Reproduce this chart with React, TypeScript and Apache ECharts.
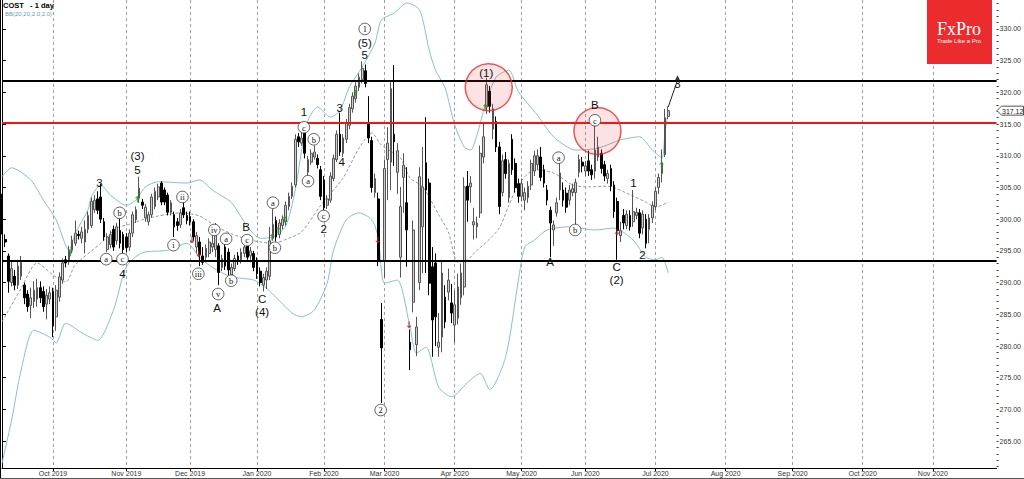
import React, { useEffect, useRef } from "react";
import * as echarts from "echarts";

// ---------------- data ----------------
const SYMBOL_TITLE = "COST   - 1 day";
const INDICATOR_TITLE = "BB(20,20,2.0,2.0)";
const START_DATE = "2019-09-09";
const SLOT_COUNT = 313;
const HOLIDAYS = ["2019-11-28", "2019-12-25", "2020-01-01", "2020-01-20", "2020-02-17", "2020-04-10", "2020-05-25", "2020-07-03"];
const MONTH_NAMES = ["Jan", "Feb", "Mar", "Apr", "May", "Jun", "Jul", "Aug", "Sep", "Oct", "Nov", "Dec"];

// [open, close, low, high]
const CANDLES: number[][] = [
  [303.3, 298.2, 297.6, 304.0], [296.8, 296.4, 295.6, 297.6], [294.2, 290.2, 288.4, 294.6], [290.0, 292.2, 289.4, 293.4],
  [291.0, 289.6, 288.8, 292.0], [289.6, 292.6, 289.0, 293.6], [291.0, 293.2, 290.4, 294.2], [289.6, 287.6, 286.6, 290.0],
  [288.2, 286.2, 285.4, 288.8], [286.4, 287.6, 284.4, 289.2], [287.0, 288.8, 286.0, 290.2], [287.4, 289.2, 286.2, 290.6],
  [289.2, 287.6, 286.8, 290.2], [288.6, 286.2, 285.4, 289.4], [286.6, 288.0, 284.2, 289.0], [287.4, 288.4, 286.6, 289.4],
  [288.6, 283.2, 281.4, 289.2], [284.6, 288.8, 282.4, 289.6], [287.7, 290.9, 287.0, 291.6], [290.4, 293.1, 289.8, 293.8],
  [293.6, 293.1, 292.4, 294.2], [293.3, 295.1, 292.8, 295.8], [295.1, 296.7, 294.6, 297.4], [296.2, 297.8, 295.8, 299.8],
  [297.6, 297.4, 296.8, 298.2], [297.0, 298.0, 296.2, 298.8], [296.4, 298.4, 294.6, 299.8], [298.4, 300.6, 297.8, 301.2],
  [299.0, 302.8, 298.6, 303.4], [301.5, 303.0, 301.0, 303.8], [303.2, 301.4, 300.8, 304.4], [303.5, 300.0, 299.4, 305.6],
  [299.6, 297.2, 296.6, 300.2], [295.2, 297.2, 294.8, 297.8], [296.0, 297.6, 295.4, 298.2], [298.4, 295.6, 295.0, 299.0],
  [296.6, 298.8, 296.0, 299.4], [298.2, 296.2, 295.4, 300.2], [297.6, 295.2, 294.6, 298.0], [297.2, 295.5, 294.8, 297.8],
  [295.6, 297.8, 295.0, 298.4], [297.8, 300.7, 297.2, 301.2], [299.9, 301.5, 299.4, 302.0], [303.3, 304.9, 302.6, 306.7],
  [302.7, 302.2, 301.6, 303.2], [300.2, 301.9, 299.6, 302.4], [299.6, 300.7, 299.0, 301.2], [300.7, 303.5, 300.2, 304.0],
  [302.0, 304.4, 301.6, 305.0], [303.5, 305.1, 303.0, 305.6], [305.7, 302.7, 302.2, 306.0], [304.6, 302.7, 302.2, 305.0],
  [303.8, 301.1, 300.6, 304.2], [301.1, 302.6, 300.6, 303.0], [300.7, 298.8, 297.2, 301.2], [299.6, 299.0, 298.2, 300.2],
  [299.1, 301.0, 298.6, 301.6], [301.8, 300.7, 300.2, 302.8], [300.6, 299.8, 299.2, 301.2], [300.4, 299.6, 299.0, 301.2],
  [299.6, 297.2, 296.6, 300.0], [295.6, 297.4, 294.6, 298.0], [296.4, 294.4, 292.6, 297.2], [294.2, 293.2, 292.8, 295.6],
  [294.0, 295.4, 293.2, 296.0], [294.6, 296.4, 294.0, 297.0], [295.6, 296.2, 294.8, 297.4], [295.2, 298.2, 294.0, 299.4],
  [295.8, 291.6, 289.6, 296.2], [292.4, 293.8, 291.8, 294.4], [295.6, 292.6, 292.0, 296.0], [294.8, 292.0, 291.2, 295.4],
  [291.2, 292.4, 291.2, 293.0], [292.2, 293.8, 291.8, 294.4], [294.2, 293.4, 292.8, 294.8], [293.6, 294.8, 293.0, 295.4],
  [294.6, 295.6, 294.0, 296.2], [296.0, 294.0, 293.6, 296.6], [294.2, 295.0, 293.2, 295.6], [294.6, 292.4, 291.8, 295.0],
  [293.4, 291.4, 290.6, 294.0], [291.8, 290.0, 289.4, 292.4], [289.6, 290.8, 288.6, 291.4], [290.4, 291.8, 289.0, 292.4],
  [291.0, 296.6, 290.4, 298.8], [297.0, 299.2, 296.6, 301.6], [299.8, 297.2, 296.5, 300.4], [297.6, 299.4, 297.0, 300.0],
  [299.0, 300.0, 298.4, 300.6], [299.6, 302.2, 299.0, 302.8], [302.0, 303.6, 301.4, 304.2], [303.6, 305.2, 303.2, 305.8],
  [305.4, 312.6, 305.0, 313.4], [313.0, 312.2, 311.4, 313.6], [312.0, 312.8, 311.6, 313.6], [313.6, 310.4, 309.6, 314.6],
  [307.4, 309.4, 306.8, 310.0], [309.0, 310.4, 308.6, 311.0], [309.8, 310.6, 309.4, 311.6], [309.6, 308.6, 308.0, 310.2],
  [307.8, 303.6, 303.0, 308.4], [306.2, 301.8, 301.2, 306.8], [302.2, 303.2, 301.6, 303.8], [303.0, 306.8, 302.6, 307.4],
  [306.4, 309.6, 306.0, 310.2], [309.4, 313.4, 309.0, 314.0], [313.4, 310.6, 310.0, 316.8], [310.4, 312.8, 309.8, 313.4],
  [312.6, 315.2, 312.0, 315.8], [314.8, 317.6, 314.2, 318.2], [317.4, 319.4, 316.8, 320.0], [319.0, 321.0, 318.4, 321.6],
  [320.8, 322.4, 320.2, 323.0], [322.0, 323.8, 321.4, 324.9], [323.4, 321.4, 320.8, 324.4], [315.2, 312.8, 312.0, 319.4],
  [312.4, 305.0, 304.2, 313.0], [304.2, 306.4, 303.4, 307.2], [303.2, 293.4, 292.6, 304.2], [284.2, 279.7, 271.0, 286.8],
  [293.4, 308.0, 290.8, 309.4], [309.4, 312.0, 303.0, 314.5], [309.0, 320.6, 304.6, 321.6], [313.4, 312.2, 308.4, 324.3],
  [307.4, 310.8, 304.0, 312.0], [294.0, 302.0, 290.8, 305.1], [306.6, 308.5, 301.0, 310.4], [302.6, 298.3, 292.5, 308.2],
  [280.6, 279.4, 276.2, 282.6], [286.9, 298.3, 285.3, 299.8], [280.2, 283.0, 278.4, 284.6], [290.0, 306.7, 288.8, 308.2],
  [298.8, 305.1, 291.5, 311.4], [308.9, 304.6, 291.5, 316.1], [305.7, 289.9, 288.0, 306.4], [292.5, 284.1, 278.3, 295.6],
  [293.1, 284.6, 280.0, 294.6], [279.8, 280.6, 278.3, 285.2], [281.4, 291.5, 279.0, 293.5], [287.7, 283.8, 282.8, 289.6],
  [288.5, 290.4, 287.2, 292.2], [286.8, 285.2, 283.6, 289.8], [283.3, 286.5, 280.5, 288.8], [284.4, 289.3, 283.4, 291.4],
  [287.6, 291.5, 286.5, 293.0], [289.3, 305.1, 288.0, 306.6], [305.2, 303.0, 299.6, 307.6], [305.1, 305.7, 302.6, 306.8],
  [299.1, 299.6, 296.8, 301.8], [298.8, 299.4, 297.0, 300.4], [301.0, 310.4, 300.2, 311.6], [309.8, 313.0, 308.8, 315.2],
  [317.7, 321.2, 316.6, 322.3], [320.2, 317.8, 316.8, 321.0], [314.2, 317.4, 312.6, 318.2], [315.4, 311.4, 310.6, 316.2],
  [311.4, 302.0, 300.8, 312.2], [304.2, 309.2, 303.6, 310.2], [309.4, 307.2, 306.4, 310.6], [303.4, 308.8, 302.6, 309.4],
  [312.6, 307.8, 307.0, 313.4], [308.8, 305.0, 304.2, 309.6], [305.6, 303.6, 302.6, 306.4], [303.6, 305.6, 302.8, 306.4],
  [303.0, 304.2, 301.4, 305.0], [303.4, 305.2, 302.6, 306.0], [305.4, 308.8, 304.6, 309.4], [307.6, 310.0, 306.8, 310.8],
  [308.6, 310.0, 307.8, 311.0], [309.8, 306.6, 306.0, 311.4], [307.8, 305.7, 305.0, 308.6], [304.6, 303.0, 302.2, 305.4],
  [301.4, 299.4, 294.0, 302.0], [298.3, 299.1, 295.8, 299.8], [301.0, 302.6, 300.4, 303.4], [304.6, 307.3, 303.0, 308.9],
  [304.6, 303.0, 302.0, 305.8], [304.1, 301.9, 301.0, 305.0], [303.0, 304.6, 302.2, 305.4], [304.2, 304.8, 303.6, 305.6],
  [304.2, 305.8, 298.6, 306.4], [307.4, 309.4, 306.6, 310.2], [309.0, 308.4, 307.4, 309.8], [307.6, 308.4, 306.8, 309.2],
  [309.2, 307.6, 306.8, 310.8], [307.8, 307.0, 306.2, 308.6], [307.6, 310.9, 306.4, 315.2], [309.8, 311.4, 309.2, 313.0],
  [310.4, 308.0, 307.2, 311.0], [308.6, 306.8, 306.0, 309.2], [306.4, 307.2, 305.6, 307.8], [308.0, 305.2, 304.4, 308.6],
  [305.4, 301.2, 300.2, 306.0], [302.8, 298.2, 293.6, 303.4], [297.4, 298.2, 296.4, 299.6], [300.6, 299.4, 298.4, 301.6],
  [299.0, 300.8, 298.4, 301.4], [300.6, 298.8, 298.2, 301.4], [299.6, 301.2, 298.8, 304.6], [300.6, 301.1, 300.0, 301.8],
  [301.0, 297.8, 297.0, 301.6], [298.6, 300.8, 297.6, 301.4], [300.0, 296.2, 295.4, 300.8], [298.4, 300.2, 296.2, 300.8],
  [300.2, 302.2, 299.4, 302.8], [302.0, 304.4, 301.4, 305.0], [305.0, 306.6, 304.0, 307.2], [307.2, 308.9, 305.8, 311.0],
  [310.2, 316.0, 309.8, 317.4], [316.2, 317.12, 315.8, 317.8],
];

// Bollinger bands, [bar index, value]
const BB_UPPER: number[][] = [
  [0, 306.7], [3, 308.1], [9, 306.2], [13, 303.0], [17, 299.9], [21, 295.1], [23, 297.8], [27, 301.5], [28, 303.5],
  [31, 305.4], [34, 303.8], [39, 302.2], [42, 303.0], [45, 305.1], [49, 305.9], [58, 305.7], [62, 306.2], [66, 304.6],
  [72, 302.6], [77, 298.8], [81, 297.0], [85, 297.2], [89, 298.9], [92, 304.6], [94, 310.9], [96, 315.6], [99, 317.7],
  [103, 316.1], [106, 317.1], [109, 320.9], [113, 324.0], [117, 327.8], [119, 331.4], [123, 332.5], [127, 334.1],
  [131, 333.0], [134, 326.7], [136, 323.5], [139, 320.7], [142, 314.9], [145, 311.4], [147, 310.9], [149, 313.3],
  [151.6, 318.0], [155, 322.4], [159, 323.5], [162, 320.1], [168, 316.4], [173, 313.0], [180, 310.9], [187, 311.2],
  [194, 312.5], [200, 313.0], [204, 310.9], [207, 309.7], [208, 313.8], [209, 316.8],
];
const BB_MIDDLE: number[][] = [
  [0, 283.8], [6, 289.1], [11, 293.1], [16, 291.2], [20, 290.1], [23, 292.8], [31, 296.2], [36, 298.6], [40, 299.2],
  [44, 299.9], [49, 300.5], [56, 301.0], [62, 300.5], [67, 298.9], [72, 297.7], [78, 296.7], [85, 296.2], [90, 297.0],
  [94, 298.0], [100, 302.2], [107, 306.5], [112, 311.2], [116, 313.6], [119, 311.7], [123, 310.4], [125, 309.7],
  [128, 306.5], [132, 305.1], [137, 300.7], [140, 298.0], [143, 293.2], [146, 293.6], [149, 295.1], [152, 296.4],
  [156, 298.6], [159, 302.2], [162, 305.4], [167, 307.8], [173, 307.3], [179, 305.4], [184, 305.1], [190, 305.2],
  [196, 304.1], [202, 302.7], [205, 301.9], [209, 302.7],
];
const BB_LOWER: number[][] = [
  [0, 261.5], [3, 268.3], [6, 276.2], [10, 282.5], [15, 281.4], [17, 280.5], [20, 283.6], [25, 282.1], [30, 280.9],
  [35, 285.7], [39, 292.5], [44, 294.7], [52, 295.1], [58, 296.2], [62, 294.0], [66, 292.4], [72, 290.9], [79, 290.4],
  [83, 289.1], [91, 285.2], [94, 284.6], [98, 285.7], [102, 289.9], [104, 295.1], [108, 299.9], [112, 301.0],
  [116, 299.9], [118, 297.2], [120, 289.9], [124, 290.4], [128, 283.0], [130, 278.9], [133, 279.8], [137, 273.5],
  [141, 272.0], [146, 274.2], [150, 275.7], [153, 273.1], [158, 278.3], [162, 290.4], [164, 295.6], [167, 296.7],
  [171, 298.3], [178, 298.8], [186, 298.3], [192, 298.6], [198, 296.7], [202, 294.0], [205, 293.6], [207, 294.0],
  [209, 291.5],
];

const LEVEL_VALUES = [321.85, 315.28, 293.45];
const LEVEL_COLORS = ["#000000", "#f21414", "#000000"];
const Y_MIN = 260.76;
const Y_MAX = 334.57;
const Y_TICKS = [265, 270, 275, 280, 285, 290, 295, 300, 305, 310, 315, 320, 325, 330];
const LAST_PRICE = 317.12;

// Elliott wave annotations [bar index, price, text]
const WAVE_LABELS: [number, number, string][] = [
  [30.6, 305.7, "3"], [42.5, 307.8, "5"], [42.5, 309.9, "(3)"], [37.8, 291.4, "4"],
  [67.5, 286.0, "A"], [76.6, 298.8, "B"], [81.6, 287.4, "C"], [81.6, 285.4, "(4)"],
  [94.7, 316.9, "1"], [100.9, 298.5, "2"], [105.9, 317.5, "3"], [106.6, 309.0, "4"],
  [113.8, 325.9, "5"], [113.8, 327.8, "(5)"], [151.9, 323.1, "(1)"], [171.9, 293.3, "A"],
  [186.0, 318.0, "B"], [192.8, 292.5, "C"], [192.8, 290.4, "(2)"], [198.1, 305.7, "1"],
  [200.9, 294.4, "2"], [211.9, 321.3, "3"],
];
const WAVE_CIRCLED: [number, number, string][] = [
  [32.7, 293.7, "a"], [36.9, 301.0, "b"], [37.8, 293.7, "c"], [53.8, 295.9, "i"], [56.6, 303.5, "ii"],
  [61.6, 291.4, "iii"], [66.6, 298.3, "iv"], [67.8, 288.2, "v"], [70.3, 296.9, "a"], [71.9, 290.3, "b"],
  [76.9, 296.7, "c"], [85.0, 302.6, "a"], [85.6, 295.5, "b"], [94.7, 314.5, "c"], [96.0, 306.0, "a"],
  [97.8, 312.6, "b"], [100.9, 300.5, "c"], [113.8, 330.0, "1"], [118.8, 269.9, "2"], [174.6, 309.7, "a"],
  [179.8, 298.3, "b"], [186.0, 315.6, "c"],
];
const UP_ARROWS: number[][] = [
  [21.5, 294.7], [42.5, 303.2], [84.7, 297.2], [86.6, 298.3], [88.7, 300.0], [110.9, 319.9], [151.6, 317.7], [206.9, 308.5],
];
const DOWN_ARROWS: number[][] = [
  [59.6, 296.7], [61.7, 294.5], [117.9, 296.7], [127.7, 283.3], [192.9, 298.0],
];
const HIGHLIGHTS: number[][] = [[152.7, 320.8], [186.8, 313.9]];
const WAVE_PROJECTION: number[][] = [[209, 317.7], [211.9, 321.9]];
const LOGO_TITLE = "FxPro";
const LOGO_SUBTITLE = "Trade Like a Pro";

// ---------------- helpers ----------------
function buildSlots(): string[] {
  const out: string[] = [];
  const d = new Date(START_DATE + "T00:00:00Z");
  while (out.length < SLOT_COUNT) {
    const dow = d.getUTCDay();
    const iso = d.toISOString().slice(0, 10);
    if (dow !== 0 && dow !== 6 && !HOLIDAYS.includes(iso)) out.push(iso);
    d.setUTCDate(d.getUTCDate() + 1);
  }
  return out;
}

const FONT = "Liberation Sans, Arial, sans-serif";
const SERIF = "Liberation Serif, Times New Roman, serif";

function renderPlainLabel(params: any, api: any) {
  const p = api.coord([api.value(0), api.value(1)]);
  const item = WAVE_LABELS[params.dataIndex];
  return {
    type: "text",
    silent: true,
    style: {
      text: item[2],
      x: p[0],
      y: p[1],
      fill: "#111111",
      font: "11.5px " + FONT,
      textAlign: "center",
      textVerticalAlign: "middle",
    },
  };
}

function renderCircledLabel(params: any, api: any) {
  const p = api.coord([api.value(0), api.value(1)]);
  const item = WAVE_CIRCLED[params.dataIndex];
  return {
    type: "group",
    silent: true,
    children: [
      {
        type: "circle",
        shape: { cx: p[0], cy: p[1], r: 5.8 },
        style: { fill: "#ffffff", stroke: "#3a3a3a", lineWidth: 0.8 },
      },
      {
        type: "text",
        style: {
          text: item[2],
          x: p[0],
          y: p[1] + 0.3,
          fill: "#111111",
          font: "8.5px " + SERIF,
          textAlign: "center",
          textVerticalAlign: "middle",
        },
      },
    ],
  };
}

function buildOption() {
  const slots = buildSlots();
  const monthStart = slots.map((d, i) => i > 0 && d.slice(0, 7) !== slots[i - 1].slice(0, 7));
  const isStart = (i: number) => monthStart[i];
  const minorTicks: number[] = [];
  for (let v = Math.ceil(Y_MIN); v <= Math.floor(Y_MAX); v++) minorTicks.push(v);

  return {
    animation: false,
    backgroundColor: "#ffffff",
    grid: { left: 2, right: 24, top: 0, bottom: 11, containLabel: false },
    xAxis: [
      {
        type: "category",
        data: slots,
        boundaryGap: false,
        axisLine: { show: true, lineStyle: { color: "#000", width: 1 } },
        axisTick: { show: true, interval: isStart, length: 3, lineStyle: { color: "#000" } },
        axisLabel: {
          show: true,
          interval: isStart,
          fontSize: 7,
          color: "#333",
          margin: 2,
          fontFamily: FONT,
          formatter: (v: string) => MONTH_NAMES[parseInt(v.slice(5, 7), 10) - 1] + " " + v.slice(0, 4),
        },
        splitLine: { show: true, interval: isStart, lineStyle: { color: "#a0a0a0", type: [3, 3], width: 1 } },
      },
      { type: "value", min: 0, max: SLOT_COUNT - 1, show: false },
    ],
    yAxis: [
      {
        type: "value",
        position: "right",
        min: Y_MIN,
        max: Y_MAX,
        axisLine: { show: true, lineStyle: { color: "#000", width: 1 } },
        axisTick: { show: true, length: 4, customValues: Y_TICKS, lineStyle: { color: "#000" } },
        axisLabel: {
          show: true,
          customValues: Y_TICKS,
          fontSize: 7,
          color: "#333",
          margin: 3,
          fontFamily: FONT,
          formatter: (v: number) => v.toFixed(2),
        },
        splitLine: { show: false },
      },
      {
        type: "value",
        position: "right",
        min: Y_MIN,
        max: Y_MAX,
        axisLine: { show: false },
        axisTick: { show: true, length: 2, customValues: minorTicks, lineStyle: { color: "#333" } },
        axisLabel: { show: false },
        splitLine: { show: false },
      },
    ],
    series: [
      {
        type: "line",
        name: "upper",
        xAxisIndex: 1,
        data: BB_UPPER,
        showSymbol: false,
        smooth: 0.25,
        silent: true,
        lineStyle: { color: "#86c2c2", width: 1 },
        z: 2,
      },
      {
        type: "line",
        name: "lower",
        xAxisIndex: 1,
        data: BB_LOWER,
        showSymbol: false,
        smooth: 0.25,
        silent: true,
        lineStyle: { color: "#86c2c2", width: 1 },
        z: 2,
      },
      {
        type: "line",
        name: "middle",
        xAxisIndex: 1,
        data: BB_MIDDLE,
        showSymbol: false,
        smooth: 0.25,
        silent: true,
        lineStyle: { color: "#8a9e9e", width: 1, type: [3, 2] },
        z: 2,
      },
      {
        type: "candlestick",
        name: "COST",
        data: CANDLES,
        barWidth: 2.2,
        silent: true,
        itemStyle: {
          color: "#cdcdcd",
          color0: "#000000",
          borderColor: "#555555",
          borderColor0: "#000000",
          borderWidth: 1,
        },
        markLine: {
          silent: true,
          symbol: ["none", "none"],
          label: { show: false },
          data: LEVEL_VALUES.map((v, i) => ({
            yAxis: v,
            lineStyle: { color: LEVEL_COLORS[i], width: 2, type: "solid" },
          })),
        },
        z: 3,
      },
      {
        type: "scatter",
        name: "highlights",
        xAxisIndex: 1,
        data: HIGHLIGHTS,
        symbol: "circle",
        symbolSize: 47,
        silent: true,
        itemStyle: { color: "rgba(235,45,45,0.17)", borderColor: "#e53030", borderWidth: 1.5 },
        z: 6,
      },
      {
        type: "scatter",
        name: "up",
        xAxisIndex: 1,
        data: UP_ARROWS,
        symbol: "path://M4,0 L8,4 L5,4 L5,10 L3,10 L3,4 L0,4 Z",
        symbolSize: [5, 7],
        silent: true,
        itemStyle: { color: "#1d9a1d" },
        z: 7,
      },
      {
        type: "scatter",
        name: "down",
        xAxisIndex: 1,
        data: DOWN_ARROWS,
        symbol: "path://M4,0 L8,4 L5,4 L5,10 L3,10 L3,4 L0,4 Z",
        symbolRotate: 180,
        symbolSize: [5, 7],
        silent: true,
        itemStyle: { color: "#c01818" },
        z: 7,
      },
      {
        type: "line",
        name: "projection",
        xAxisIndex: 1,
        data: WAVE_PROJECTION,
        showSymbol: false,
        silent: true,
        lineStyle: { color: "#222", width: 1 },
        z: 7,
      },
      {
        type: "scatter",
        name: "projectionHead",
        xAxisIndex: 1,
        data: [WAVE_PROJECTION[WAVE_PROJECTION.length - 1]],
        symbol: "triangle",
        symbolSize: [6, 6],
        symbolOffset: [0, -2],
        silent: true,
        itemStyle: { color: "#000" },
        z: 8,
      },
      {
        type: "custom",
        name: "waveCircled",
        xAxisIndex: 1,
        data: WAVE_CIRCLED.map((w) => [w[0], w[1]]),
        renderItem: renderCircledLabel,
        silent: true,
        clip: false,
        z: 9,
      },
      {
        type: "custom",
        name: "waveLabels",
        xAxisIndex: 1,
        data: WAVE_LABELS.map((w) => [w[0], w[1]]),
        renderItem: renderPlainLabel,
        silent: true,
        clip: false,
        z: 9,
      },
    ],
  };
}

function buildGraphics(priceY: number) {
  return [
    {
      type: "text",
      left: 3,
      top: 1,
      silent: true,
      style: { text: SYMBOL_TITLE, fill: "#000", font: "bold 7.5px " + FONT },
      z: 20,
    },
    {
      type: "text",
      left: 5,
      top: 11,
      silent: true,
      style: { text: INDICATOR_TITLE, fill: "#5fa5a5", font: "6px " + FONT },
      z: 20,
    },
    {
      type: "rect",
      silent: true,
      shape: { x: 927, y: 0, width: 65, height: 64 },
      style: { fill: "#ec2b2e" },
      z: 20,
    },
    {
      type: "text",
      silent: true,
      x: 937,
      y: 29,
      style: {
        text: LOGO_TITLE,
        fill: "#ffffff",
        font: "18px " + SERIF,
        textVerticalAlign: "middle",
      },
      z: 21,
    },
    {
      type: "text",
      silent: true,
      x: 937,
      y: 40.5,
      style: { text: LOGO_SUBTITLE, fill: "#ffffff", font: "6px " + FONT, textVerticalAlign: "middle" },
      z: 21,
    },
    {
      type: "polygon",
      silent: true,
      shape: {
        points: [
          [997, priceY],
          [1001.5, priceY - 4.5],
          [1023.5, priceY - 4.5],
          [1023.5, priceY + 4.5],
          [1001.5, priceY + 4.5],
        ],
      },
      style: { fill: "#ffffff", stroke: "#555", lineWidth: 1 },
      z: 20,
    },
    {
      type: "text",
      silent: true,
      x: 1002,
      y: priceY + 0.5,
      style: { text: LAST_PRICE.toFixed(2), fill: "#222", font: "7px " + FONT, textVerticalAlign: "middle" },
      z: 21,
    },
    {
      type: "line",
      silent: true,
      shape: { x1: 0.5, y1: 0, x2: 0.5, y2: 479 },
      style: { stroke: "#000", lineWidth: 1 },
      z: 20,
    },
    {
      type: "line",
      silent: true,
      shape: { x1: 0, y1: 478.5, x2: 1024, y2: 478.5 },
      style: { stroke: "#555", lineWidth: 1 },
      z: 20,
    },
  ];
}

export default function App() {
  const ref = useRef<HTMLDivElement>(null);
  useEffect(() => {
    const el = ref.current;
    if (!el) return;
    const chart = echarts.init(el, null, { renderer: "svg" });
    chart.setOption(buildOption() as any);
    const py = chart.convertToPixel({ yAxisIndex: 0 }, LAST_PRICE) as number;
    chart.setOption({ graphic: buildGraphics(py) } as any);
    return () => chart.dispose();
  }, []);
  return (
    <div
      ref={ref}
      style={{ position: "fixed", left: 0, top: 0, width: 1024, height: 479, background: "#fff" }}
    />
  );
}
